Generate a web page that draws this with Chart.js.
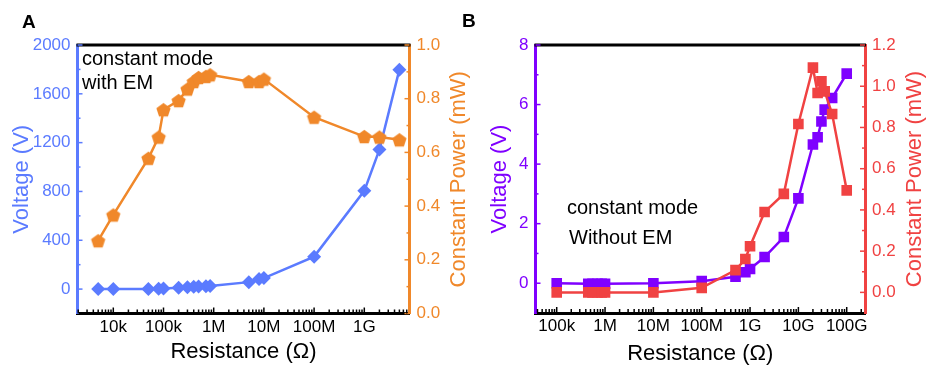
<!DOCTYPE html>
<html>
<head>
<meta charset="utf-8">
<script src="https://cdn.jsdelivr.net/npm/chart.js@4.4.1/dist/chart.umd.min.js"></script>
<style>
  html, body { margin: 0; padding: 0; background: #fff; }
  #wrap { position: relative; width: 927px; height: 368px; overflow: hidden; }
  canvas { position: absolute; top: 0; }
  #chartA { left: 0; }
  #chartB { left: 460px; }
</style>
</head>
<body>
<div id="wrap">
  <canvas id="chartA" width="470" height="368"></canvas>
  <canvas id="chartB" width="467" height="368"></canvas>
</div>
<script>
// Panel A: constant mode with EM
const resA = [5e3, 1e4, 5e4, 8e4, 1e5, 2e5, 3e5, 4e5, 5e5, 7e5, 8.5e5, 5e6, 8e6, 1e7, 1e8, 1e9, 2e9, 5e9];
const voltA = [0, 0, 0, 3, 5, 10, 16, 20, 22, 24, 26, 57, 82, 90, 266, 805, 1143, 1798];
const powerA = [0.271, 0.367, 0.578, 0.657, 0.759, 0.793, 0.836, 0.864, 0.879, 0.883, 0.889, 0.864, 0.864, 0.873, 0.731, 0.659, 0.657, 0.647];
const xTickValsA = [1e4, 1e5, 1e6, 1e7, 1e8, 1e9];
const xTickLabelsA = ['10k', '100k', '1M', '10M', '100M', '1G'];
const voltTicksA = [0, 400, 800, 1200, 1600, 2000];
const powerTicksA = [0, 0.2, 0.4, 0.6, 0.8, 1.0];

// Panel B: constant mode without EM
const resB = [1e5, 4.5e5, 5.5e5, 7e5, 8.5e5, 1e6, 1e7, 1e8, 5e8, 8e8, 1e9, 2e9, 5e9, 1e10, 2e10, 2.5e10, 3e10, 3.5e10, 5e10, 1e11];
const voltB = [0, -0.02, -0.02, -0.02, -0.02, -0.02, 0, 0.07, 0.22, 0.37, 0.48, 0.88, 1.55, 2.85, 4.66, 4.9, 5.43, 5.83, 6.22, 7.04];
const powerB = [0, 0, 0, 0, 0, 0, 0, 0.022, 0.108, 0.162, 0.224, 0.39, 0.478, 0.817, 1.09, 0.967, 1.024, 0.975, 0.865, 0.495];
const xTickValsB = [1e5, 1e6, 1e7, 1e8, 1e9, 1e10, 1e11];
const xTickLabelsB = ['100k', '1M', '10M', '100M', '1G', '10G', '100G'];
const voltTicksB = [0, 2, 4, 6, 8];
const powerTicksB = [0, 0.2, 0.4, 0.6, 0.8, 1.0, 1.2];

const BLUE = '#5b7bff';
const ORANGE = '#f0882a';
const PURPLE = '#7f00ff';
const RED = '#f04242';
const FONT = '"Liberation Sans", Arial, sans-serif';

Chart.defaults.font.family = FONT;
Chart.defaults.animation = false;

// pentagon marker for the power series of panel A
function pentagon(color, r) {
  const size = Math.ceil(r * 2 + 2);
  const c = document.createElement('canvas');
  c.width = size; c.height = size;
  const g = c.getContext('2d');
  g.fillStyle = color;
  g.beginPath();
  for (let i = 0; i < 5; i++) {
    const ang = -Math.PI / 2 + i * 2 * Math.PI / 5;
    const px = size / 2 + r * Math.cos(ang);
    const py = size / 2 + 0.8 + r * Math.sin(ang);
    if (i === 0) g.moveTo(px, py); else g.lineTo(px, py);
  }
  g.closePath();
  g.fill();
  return c;
}

function fixTicks(values) {
  return (scale) => { scale.ticks = values.map((v) => ({ value: v })); };
}

function mids(values) {
  const out = [];
  for (let i = 1; i < values.length; i++) out.push((values[i - 1] + values[i]) / 2);
  return out;
}

// frame, inward tick marks, rotated right title, notes
const frame = {
  id: 'frame',
  afterDraw(chart, args, opts) {
    const { ctx, chartArea: a, scales } = chart;
    ctx.save();

    ctx.strokeStyle = '#000';
    ctx.lineWidth = 3;
    ctx.beginPath();
    ctx.moveTo(a.left - 1, a.top);
    ctx.lineTo(a.right + 1, a.top);
    ctx.stroke();

    ctx.lineWidth = 1.5;
    const yTicks = (scale, majors, color, dir) => {
      const x0 = dir > 0 ? a.left : a.right;
      ctx.strokeStyle = color;
      const mark = (v, len) => {
        const y = scale.getPixelForValue(v);
        ctx.beginPath();
        ctx.moveTo(x0, y);
        ctx.lineTo(x0 + dir * len, y);
        ctx.stroke();
      };
      majors.forEach((v) => mark(v, 5));
      mids(majors).forEach((v) => mark(v, 3));
    };
    yTicks(scales.y, opts.leftTicks, opts.leftColor, 1);
    yTicks(scales.y1, opts.rightTicks, opts.rightColor, -1);

    const xs = scales.x;
    ctx.strokeStyle = '#000';
    for (let d = Math.floor(Math.log10(xs.min)); d <= Math.ceil(Math.log10(xs.max)); d++) {
      for (let m = 1; m <= 9; m++) {
        const v = m * Math.pow(10, d);
        if (v < xs.min || v > xs.max) continue;
        const x = xs.getPixelForValue(v);
        ctx.beginPath();
        ctx.moveTo(x, a.bottom);
        ctx.lineTo(x, a.bottom - (m === 1 ? 6 : 4));
        ctx.stroke();
      }
    }

    ctx.fillStyle = opts.rightColor;
    ctx.font = '22px ' + FONT;
    ctx.textAlign = 'center';
    ctx.textBaseline = 'middle';
    ctx.save();
    ctx.translate(opts.rightTitleX, (a.top + a.bottom) / 2);
    ctx.rotate(-Math.PI / 2);
    ctx.fillText('Constant Power (mW)', 0, 0);
    ctx.restore();

    ctx.fillStyle = '#000';
    ctx.textAlign = 'left';
    ctx.textBaseline = 'alphabetic';
    ctx.font = 'bold 19px ' + FONT;
    ctx.fillText(opts.letter.text, opts.letter.x, opts.letter.y);
    ctx.font = '20px ' + FONT;
    opts.notes.forEach((n) => ctx.fillText(n.text, n.x, n.y));

    ctx.restore();
  }
};

function makeChart(id, cfg) {
  const fixW = (w) => (scale) => { scale.width = w; };
  const fixH = (h) => (scale) => { scale.height = h; };
  return new Chart(document.getElementById(id), {
    type: 'line',
    data: {
      datasets: [
        {
          label: 'Voltage (V)',
          data: cfg.res.map((r, i) => ({ x: r, y: cfg.volt[i] })),
          yAxisID: 'y',
          borderColor: cfg.leftColor,
          backgroundColor: cfg.leftColor,
          borderWidth: 2.5,
          pointStyle: cfg.voltPoint,
          pointRadius: cfg.voltRadius,
          pointBorderWidth: 0,
          order: cfg.voltOrder,
        },
        {
          label: 'Constant Power (mW)',
          data: cfg.res.map((r, i) => ({ x: r, y: cfg.power[i] })),
          yAxisID: 'y1',
          borderColor: cfg.rightColor,
          backgroundColor: cfg.rightColor,
          borderWidth: 2.5,
          pointStyle: cfg.powerPoint,
          pointRadius: cfg.powerRadius,
          pointBorderWidth: 0,
          order: cfg.powerOrder,
        },
      ],
    },
    options: {
      responsive: false,
      layout: { padding: { top: 45, left: 0, right: 0, bottom: 0 } },
      plugins: {
        legend: { display: false },
        tooltip: { enabled: false },
        frame: {
          leftTicks: cfg.voltTicks,
          rightTicks: cfg.powerTicks,
          leftColor: cfg.leftColor,
          rightColor: cfg.rightColor,
          rightTitleX: cfg.rightTitleX,
          letter: cfg.letter,
          notes: cfg.notes,
        },
      },
      scales: {
        x: {
          type: 'logarithmic',
          min: cfg.xMin,
          max: cfg.xMax,
          afterBuildTicks: fixTicks(cfg.xTickVals),
          afterFit: fixH(cfg.xHeight),
          grid: { display: false, drawTicks: false },
          border: { display: true, color: '#000', width: 3 },
          ticks: {
            autoSkip: false,
            maxRotation: 0,
            padding: cfg.xPad,
            color: '#000',
            font: { size: 17 },
            callback: (v) => cfg.xTickLabels[cfg.xTickVals.indexOf(v)],
          },
          title: {
            display: true,
            text: 'Resistance (\u03A9)',
            color: '#000',
            font: { size: 22 },
            padding: { top: 0, bottom: cfg.xTitlePad },
          },
        },
        y: {
          position: 'left',
          min: cfg.voltMin,
          max: cfg.voltMax,
          afterBuildTicks: fixTicks(cfg.voltTicks),
          afterFit: fixW(cfg.leftWidth),
          grid: { display: false, drawTicks: false },
          border: { display: true, color: cfg.leftColor, width: 3 },
          ticks: {
            padding: 7,
            color: cfg.leftColor,
            font: { size: 17 },
            callback: (v) => String(v),
          },
          title: {
            display: true,
            text: 'Voltage (V)',
            color: cfg.leftColor,
            font: { size: 22 },
            padding: { top: cfg.leftTitlePad, bottom: 0 },
          },
        },
        y1: {
          position: 'right',
          min: cfg.powerMin,
          max: cfg.powerMax,
          afterBuildTicks: fixTicks(cfg.powerTicks),
          afterFit: fixW(cfg.rightWidth),
          grid: { display: false, drawTicks: false },
          border: { display: true, color: cfg.rightColor, width: 3 },
          ticks: {
            padding: 7,
            color: cfg.rightColor,
            font: { size: 17 },
            callback: (v) => v.toFixed(1),
          },
        },
      },
    },
    plugins: [frame],
  });
}

makeChart('chartA', {
  res: resA, volt: voltA, power: powerA,
  xTickVals: xTickValsA, xTickLabels: xTickLabelsA,
  voltTicks: voltTicksA, powerTicks: powerTicksA,
  xMin: 1936, xMax: 7.95e9,
  voltMin: -200, voltMax: 2000,
  powerMin: 0, powerMax: 1.0,
  leftColor: BLUE, rightColor: ORANGE,
  voltPoint: 'rectRot', voltRadius: 7, voltOrder: 1,
  powerPoint: pentagon(ORANGE, 7.5), powerRadius: 7.5, powerOrder: 0,
  leftWidth: 77.5, rightWidth: 60.5, xHeight: 54.5,
  xPad: 4, xTitlePad: 3, leftTitlePad: 9,
  rightTitleX: 459,
  letter: { text: 'A', x: 22, y: 28 },
  notes: [
    { text: 'constant mode', x: 82, y: 65 },
    { text: 'with EM', x: 82, y: 89 },
  ],
});

makeChart('chartB', {
  res: resB, volt: voltB, power: powerB,
  xTickVals: xTickValsB, xTickLabels: xTickLabelsB,
  voltTicks: voltTicksB, powerTicks: powerTicksB,
  xMin: 3.64e4, xMax: 2.39e11,
  voltMin: -1, voltMax: 8,
  powerMin: -0.1, powerMax: 1.2,
  leftColor: PURPLE, rightColor: RED,
  voltPoint: 'rect', voltRadius: 7.5, voltOrder: 1,
  powerPoint: 'rect', powerRadius: 7.5, powerOrder: 0,
  leftWidth: 75.5, rightWidth: 62, xHeight: 55,
  xPad: 3, xTitlePad: 1, leftTitlePad: 26.5,
  rightTitleX: 455,
  letter: { text: 'B', x: 2, y: 27 },
  notes: [
    { text: 'constant mode', x: 107, y: 214 },
    { text: 'Without EM', x: 109, y: 244 },
  ],
});
</script>
</body>
</html>
